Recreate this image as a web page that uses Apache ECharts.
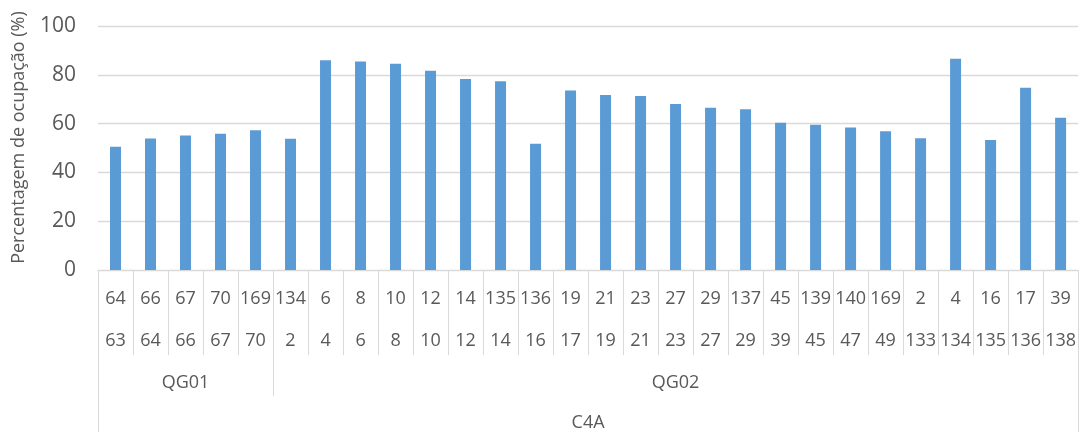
<!DOCTYPE html>
<html>
<head>
<meta charset="utf-8">
<script src="https://cdn.jsdelivr.net/npm/echarts@6/dist/echarts.min.js"></script>
<style>
  html, body { margin: 0; padding: 0; background: #fff; }
  #chart { width: 1079px; height: 432px; }
</style>
</head>
<body>
<div id="chart"></div>
<script>
// Upper and lower identifier rows of each category
const upperIds = ['64','66','67','70','169','134','6','8','10','12','14','135','136','19','21','23','27','29','137','45','139','140','169','2','4','16','17','39'];
const lowerIds = ['63','64','66','67','70','2','4','6','8','10','12','14','16','17','19','21','23','27','29','39','45','47','49','133','134','135','136','138'];
// Groups (name and number of categories in each), and the top-level group
const groupNames = ['QG01', 'QG02'];
const groupSizes = [5, 23];
const topGroup = 'C4A';
// Occupancy percentage per category
const occupancy = [50.5, 53.9, 55.1, 55.8, 57.3, 53.8, 86.0, 85.5, 84.5, 81.7, 78.3, 77.4, 51.7, 73.6,
                   71.7, 71.3, 68.0, 66.5, 65.9, 60.3, 59.5, 58.4, 56.9, 54.0, 86.6, 53.3, 74.7, 62.4];
const yTicks = [0, 20, 40, 60, 80, 100];

const n = upperIds.length;
const textColor = '#595959';
const lineColor = '#d9d9d9';
const font = 'Open Sans';

// Group boundaries and centres, in category units
const groupBounds = [0];
groupSizes.forEach(s => groupBounds.push(groupBounds[groupBounds.length - 1] + s));
const groupCenters = groupNames.map((_, i) => (groupBounds[i] + groupBounds[i + 1]) / 2);
const innerBounds = groupBounds.slice(1, -1);

const chart = echarts.init(document.getElementById('chart'));

const baseLabel = { color: textColor, fontFamily: font, fontSize: 18 };

chart.setOption({
  animation: false,
  grid: { left: 98, right: -1, top: 26, bottom: 162, containLabel: false },
  xAxis: [
    {
      type: 'category',
      data: upperIds,
      boundaryGap: true,
      axisLine: { show: true, lineStyle: { color: lineColor, width: 1 } },
      axisTick: { show: true, interval: 0, length: 85, lineStyle: { color: lineColor, width: 1 } },
      axisLabel: Object.assign({ interval: 0, margin: 20 }, baseLabel)
    },
    {
      type: 'category',
      data: lowerIds,
      position: 'bottom',
      boundaryGap: true,
      axisLine: { show: false },
      axisTick: { show: false },
      axisLabel: Object.assign({ interval: 0, margin: 62 }, baseLabel)
    },
    {
      type: 'value',
      min: 0, max: n,
      position: 'bottom',
      axisLine: { show: false },
      splitLine: { show: false },
      axisTick: { show: true, customValues: innerBounds, length: 126, lineStyle: { color: lineColor, width: 1 } },
      axisLabel: Object.assign({
        margin: 104,
        customValues: groupCenters,
        formatter: v => {
          const i = groupCenters.findIndex(c => Math.abs(c - v) < 1e-6);
          return i >= 0 ? groupNames[i] : '';
        }
      }, baseLabel)
    },
    {
      type: 'value',
      min: 0, max: n,
      position: 'bottom',
      axisLine: { show: false },
      splitLine: { show: false },
      axisTick: { show: true, customValues: [0, n], length: 162, lineStyle: { color: lineColor, width: 1 } },
      axisLabel: Object.assign({
        margin: 144,
        customValues: [n / 2],
        formatter: () => topGroup
      }, baseLabel)
    }
  ],
  yAxis: {
    type: 'value',
    min: yTicks[0],
    max: yTicks[yTicks.length - 1],
    interval: yTicks[1] - yTicks[0],
    name: 'Percentagem de ocupação (%)',
    nameLocation: 'middle',
    nameGap: 70,
    nameTextStyle: { color: textColor, fontFamily: font, fontSize: 18, padding: [0, 0, 0, 21] },
    axisLine: { show: false },
    axisTick: { show: false },
    axisLabel: { color: textColor, fontFamily: font, fontSize: 21, margin: 22 },
    splitLine: { lineStyle: { color: lineColor, width: 1.3 } }
  },
  series: [{
    type: 'bar',
    xAxisIndex: 0,
    data: occupancy,
    barWidth: 11,
    itemStyle: { color: '#5b9bd5' }
  }]
});
</script>
</body>
</html>
